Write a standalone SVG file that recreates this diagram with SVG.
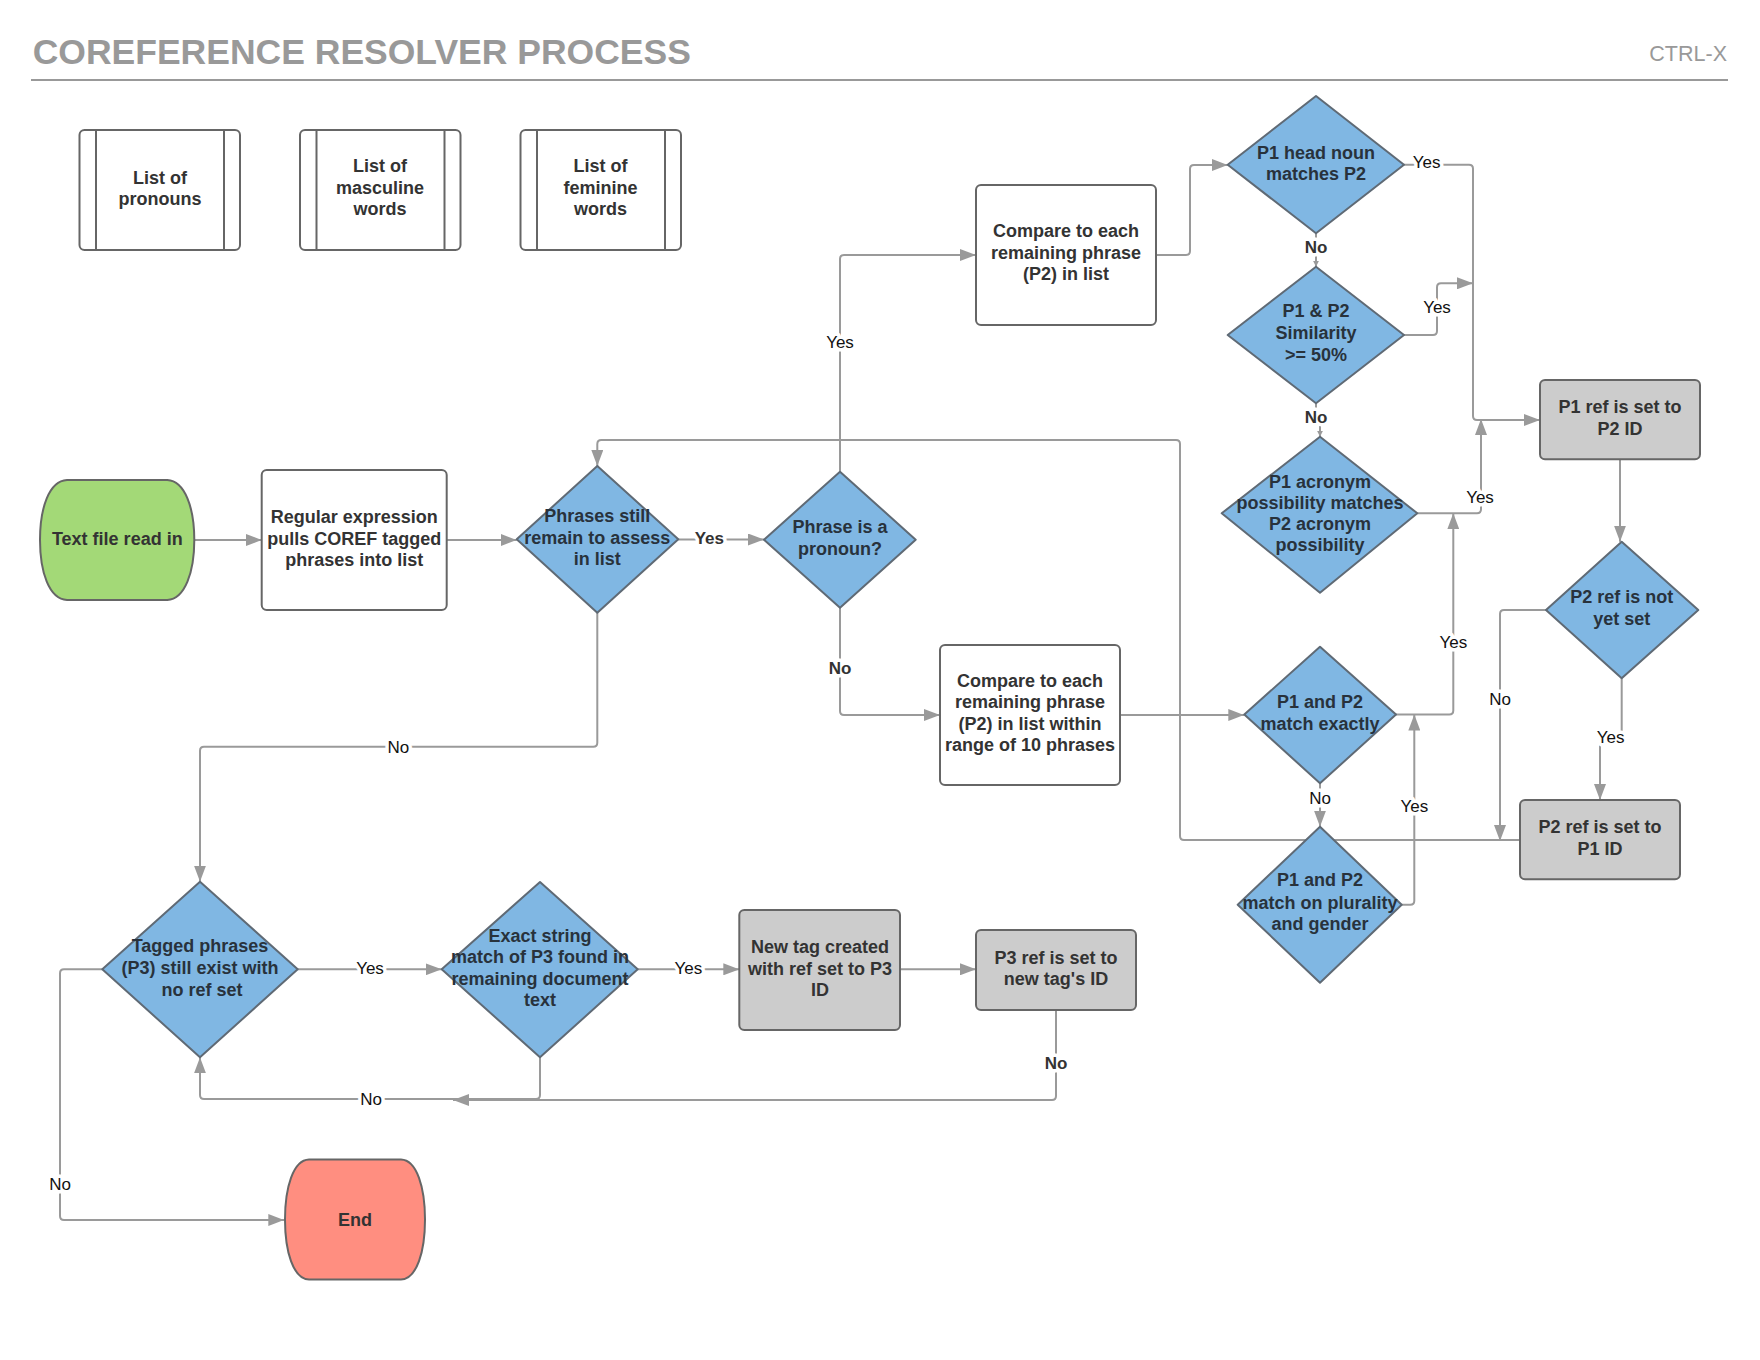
<svg xmlns="http://www.w3.org/2000/svg" width="1760" height="1360" viewBox="0 0 1760 1360">
<style>
.t{font-family:"Liberation Sans",Arial,sans-serif;font-weight:bold;font-size:18px;fill:#333;text-anchor:middle}
.dt{fill:#28323c}
.box{fill:#fff;stroke:#666;stroke-width:2}
.gbox{fill:#ccc;stroke:#666;stroke-width:2}
.dia{fill:#80b7e3;stroke:#5f6a75;stroke-width:2;stroke-linejoin:round}
.c{fill:none;stroke:#9a9a9a;stroke-width:2}
.lb{font-family:"Liberation Sans",Arial,sans-serif;font-size:17px;fill:#111;text-anchor:middle;stroke:#fff;stroke-width:7;paint-order:stroke;stroke-linejoin:round}
.lbb{font-weight:bold;fill:#333}
</style>
<defs>
<marker id="a" viewBox="0 0 16 12" refX="16" refY="6" markerWidth="16" markerHeight="12" orient="auto" markerUnits="userSpaceOnUse"><path d="M0,0 L16,6 L0,12 z" fill="#9a9a9a"/></marker>
<marker id="s" viewBox="0 0 6 6" refX="6" refY="3" markerWidth="6" markerHeight="6" orient="auto" markerUnits="userSpaceOnUse"><path d="M0,0 L6,3 L0,6 z" fill="#9a9a9a"/></marker>
</defs>
<rect width="1760" height="1360" fill="#fff"/>
<g id="header">
<text x="32.7" y="64" font-family="Liberation Sans,Arial,sans-serif" font-weight="bold" font-size="35.5" fill="#999">COREFERENCE RESOLVER PROCESS</text>
<text x="1727" y="61" font-family="Liberation Sans,Arial,sans-serif" font-size="21.5" fill="#999" text-anchor="end">CTRL-X</text>
<path d="M31,80 H1728" stroke="#999" stroke-width="2"/>
</g>
<g id="connectors">
<path class="c" d="M194.3,540 H261.7" marker-end="url(#a)"/>
<path class="c" d="M446.7,540 H516.7" marker-end="url(#a)"/>
<path class="c" d="M678.3,539.5 H764" marker-end="url(#a)"/>
<path class="c" d="M840,471.7 V259 Q840,255 844,255 H976" marker-end="url(#a)"/>
<path class="c" d="M840,607.7 V711 Q840,715 844,715 H940" marker-end="url(#a)"/>
<path class="c" d="M1156,255 H1186 Q1190,255 1190,251 V169 Q1190,165 1194,165 H1227.7" marker-end="url(#a)"/>
<path class="c" d="M1120,715 H1244.3" marker-end="url(#a)"/>
<path class="c" d="M1316,233.3 V266.7" marker-end="url(#s)"/>
<path class="c" d="M1316,403.3 V424 H1320 V436.7" marker-end="url(#s)"/>
<path class="c" d="M1404,164.7 H1469 Q1473,164.7 1473,168.7 V416 Q1473,420 1477,420 H1540" marker-end="url(#a)"/>
<path class="c" d="M1404,335 H1433 Q1437,335 1437,331 V287.3 Q1437,283.3 1441,283.3 H1473" marker-end="url(#a)"/>
<path class="c" d="M1417.3,513.3 H1477 Q1481,513.3 1481,509.3 V419" marker-end="url(#a)"/>
<path class="c" d="M1396,714.5 H1449.3 Q1453.3,714.5 1453.3,710.5 V513.3" marker-end="url(#a)"/>
<path class="c" d="M1401.7,904.7 H1410.3 Q1414.3,904.7 1414.3,900.7 V714.5" marker-end="url(#a)"/>
<path class="c" d="M1320,783.3 V826.7" marker-end="url(#a)"/>
<path class="c" d="M1620,459.3 V541.7" marker-end="url(#a)"/>
<path class="c" d="M1546,610 H1504 Q1500,610 1500,614 V841" marker-end="url(#a)"/>
<path class="c" d="M1621.7,678.3 V736.7 H1600 V800" marker-end="url(#a)"/>
<path class="c" d="M1520,840 H1184 Q1180,840 1180,836 V444 Q1180,440 1176,440 H601.3 Q597.3,440 597.3,444 V466" marker-end="url(#a)"/>
<path class="c" d="M597.3,612.7 V742.7 Q597.3,746.7 593.3,746.7 H204 Q200,746.7 200,750.7 V881.7" marker-end="url(#a)"/>
<path class="c" d="M297.7,969.3 H441.7" marker-end="url(#a)"/>
<path class="c" d="M637.7,969.3 H739.3" marker-end="url(#a)"/>
<path class="c" d="M900,969.3 H976" marker-end="url(#a)"/>
<path class="c" d="M1056,1010 V1096 Q1056,1100 1052,1100 H453" marker-end="url(#a)"/>
<path class="c" d="M540,1057.3 V1095 Q540,1099 536,1099 H204 Q200,1099 200,1095 V1057.3" marker-end="url(#a)"/>
<path class="c" d="M102.3,969.3 H64 Q60,969.3 60,973.3 V1216 Q60,1220 64,1220 H284.3" marker-end="url(#a)"/>
<text class="lb lbb" x="709.3" y="543.6">Yes</text>
<text class="lb" x="840" y="347.6">Yes</text>
<text class="lb lbb" x="840" y="673.6">No</text>
<text class="lb lbb" x="1316" y="252.6">No</text>
<text class="lb lbb" x="1316" y="422.6">No</text>
<text class="lb" x="1426.7" y="167.6">Yes</text>
<text class="lb" x="1437" y="312.6">Yes</text>
<text class="lb" x="1480" y="502.6">Yes</text>
<text class="lb" x="1453.3" y="647.6">Yes</text>
<text class="lb" x="1414.3" y="811.9">Yes</text>
<text class="lb" x="1320" y="804.2">No</text>
<text class="lb" x="1500" y="705.2">No</text>
<text class="lb" x="1610.7" y="742.6">Yes</text>
<text class="lb" x="398.3" y="752.6">No</text>
<text class="lb" x="370" y="973.6">Yes</text>
<text class="lb" x="688.3" y="973.9">Yes</text>
<text class="lb lbb" x="1056" y="1068.6">No</text>
<text class="lb" x="371" y="1104.9">No</text>
<text class="lb" x="60" y="1190.2">No</text>
</g>
<g id="list-pronouns">
<rect class="box" x="79.5" y="130" width="160.5" height="120" rx="5"/>
<path d="M96,130 V250 M224,130 V250" stroke="#666" stroke-width="2"/>
<text class="t" x="160" y="183.6">List of</text>
<text class="t" x="160" y="205.3">pronouns</text>
</g>
<g id="list-masculine">
<rect class="box" x="300" y="130" width="160.5" height="120" rx="5"/>
<path d="M316.5,130 V250 M444.5,130 V250" stroke="#666" stroke-width="2"/>
<text class="t" x="380" y="172">List of</text>
<text class="t" x="380" y="194">masculine</text>
<text class="t" x="380" y="215.3">words</text>
</g>
<g id="list-feminine">
<rect class="box" x="520.5" y="130" width="160.5" height="120" rx="5"/>
<path d="M537,130 V250 M665,130 V250" stroke="#666" stroke-width="2"/>
<text class="t" x="600.5" y="172">List of</text>
<text class="t" x="600.5" y="194">feminine</text>
<text class="t" x="600.5" y="215.3">words</text>
</g>
<g id="text-file">
<path d="M67,480 H167.3 C185,481 194.3,508 194.3,540 C194.3,572 185,599 167.3,600 H67 C49,599 40,572 40,540 C40,508 49,481 67,480 Z" fill="#a3d977" stroke="#666" stroke-width="2"/>
<text class="t" x="117.3" y="544.6">Text file read in</text>
</g>
<g id="regex">
<rect class="box" x="261.7" y="470" width="185" height="140" rx="5"/>
<text class="t" x="354.2" y="523">Regular expression</text>
<text class="t" x="354.2" y="544.6">pulls COREF tagged</text>
<text class="t" x="354.2" y="565.6">phrases into list</text>
</g>
<g id="phrases-remain">
<path class="dia" d="M597.3,466 L678.3,539.3 L597.3,612.7 L516.7,539.3 Z"/>
<text class="t dt" x="597.3" y="522.3">Phrases still</text>
<text class="t dt" x="597.3" y="544">remain to assess</text>
<text class="t dt" x="597.3" y="565.3">in list</text>
</g>
<g id="is-pronoun">
<path class="dia" d="M840,471.7 L915.7,539.7 L840,607.7 L764,539.7 Z"/>
<text class="t dt" x="840" y="533">Phrase is a</text>
<text class="t dt" x="840" y="554.6">pronoun?</text>
</g>
<g id="compare-all">
<rect class="box" x="976" y="185" width="180" height="140" rx="5"/>
<text class="t" x="1066" y="237.3">Compare to each</text>
<text class="t" x="1066" y="259">remaining phrase</text>
<text class="t" x="1066" y="280.3">(P2) in list</text>
</g>
<g id="compare-range">
<rect class="box" x="940" y="645" width="180" height="140" rx="5"/>
<text class="t" x="1030" y="687">Compare to each</text>
<text class="t" x="1030" y="708">remaining phrase</text>
<text class="t" x="1030" y="729.6">(P2) in list within</text>
<text class="t" x="1030" y="751.3">range of 10 phrases</text>
</g>
<g id="head-noun">
<path class="dia" d="M1316,96 L1404,164.7 L1316,233.3 L1227.7,164.7 Z"/>
<text class="t dt" x="1316" y="158.6">P1 head noun</text>
<text class="t dt" x="1316" y="179.6">matches P2</text>
</g>
<g id="similarity">
<path class="dia" d="M1316,266.7 L1404,335 L1316,403.3 L1227.7,335 Z"/>
<text class="t dt" x="1316" y="317.3">P1 &amp; P2</text>
<text class="t dt" x="1316" y="339">Similarity</text>
<text class="t dt" x="1316" y="360.6">&gt;= 50%</text>
</g>
<g id="acronym">
<path class="dia" d="M1320,436.7 L1417.3,513.3 L1320,592.7 L1221.7,513.3 Z"/>
<text class="t dt" x="1320" y="488">P1 acronym</text>
<text class="t dt" x="1320" y="509">possibility matches</text>
<text class="t dt" x="1320" y="529.6">P2 acronym</text>
<text class="t dt" x="1320" y="551.3">possibility</text>
</g>
<g id="match-exactly">
<path class="dia" d="M1320,646.7 L1396,714.5 L1320,783.3 L1244.3,714.5 Z"/>
<text class="t dt" x="1320" y="708">P1 and P2</text>
<text class="t dt" x="1320" y="729.6">match exactly</text>
</g>
<g id="plurality">
<path class="dia" d="M1320,826.7 L1401.7,904.7 L1320,982.7 L1237.7,904.7 Z"/>
<text class="t dt" x="1320" y="886.3">P1 and P2</text>
<text class="t dt" x="1320" y="909">match on plurality</text>
<text class="t dt" x="1320" y="930.3">and gender</text>
</g>
<g id="p1-ref">
<rect class="gbox" x="1540" y="380" width="160" height="79.3" rx="5"/>
<text class="t" x="1620" y="413">P1 ref is set to</text>
<text class="t" x="1620" y="434.6">P2 ID</text>
</g>
<g id="p2-not-set">
<path class="dia" d="M1621.7,541.7 L1698.3,610 L1621.7,678.3 L1546,610 Z"/>
<text class="t dt" x="1621.7" y="603">P2 ref is not</text>
<text class="t dt" x="1621.7" y="624.6">yet set</text>
</g>
<g id="p2-ref">
<rect class="gbox" x="1520" y="800" width="160" height="79.3" rx="5"/>
<text class="t" x="1600" y="833">P2 ref is set to</text>
<text class="t" x="1600" y="854.6">P1 ID</text>
</g>
<g id="tagged-exist">
<path class="dia" d="M200,881.7 L297.7,969.3 L200,1057.3 L102.3,969.3 Z"/>
<text class="t dt" x="200" y="952.3">Tagged phrases</text>
<text class="t dt" x="200" y="974">(P3) still exist with</text>
<text class="t dt" x="202" y="995.6">no ref set</text>
</g>
<g id="exact-string">
<path class="dia" d="M540,882 L637.7,969.3 L540,1057.3 L441.7,969.3 Z"/>
<text class="t dt" x="540" y="942">Exact string</text>
<text class="t dt" x="540" y="963">match of P3 found in</text>
<text class="t dt" x="540" y="984.6">remaining document</text>
<text class="t dt" x="540" y="1006.3">text</text>
</g>
<g id="new-tag">
<rect class="gbox" x="739.3" y="910" width="160.7" height="120" rx="5"/>
<text class="t" x="820" y="953">New tag created</text>
<text class="t" x="820" y="974.6">with ref set to P3</text>
<text class="t" x="820" y="996.3">ID</text>
</g>
<g id="p3-ref">
<rect class="gbox" x="976" y="930" width="160" height="80" rx="5"/>
<text class="t" x="1056" y="963.6">P3 ref is set to</text>
<text class="t" x="1056" y="985.3">new tag's ID</text>
</g>
<g id="end">
<path d="M309,1159.5 H401 C417,1160 425,1188 425,1219.5 C425,1251 417,1279 401,1279.5 H309 C293,1279 285,1251 285,1219.5 C285,1188 293,1160 309,1159.5 Z" fill="#ff8e80" stroke="#666" stroke-width="2"/>
<text class="t" x="355" y="1225.8">End</text>
</g>
</svg>
